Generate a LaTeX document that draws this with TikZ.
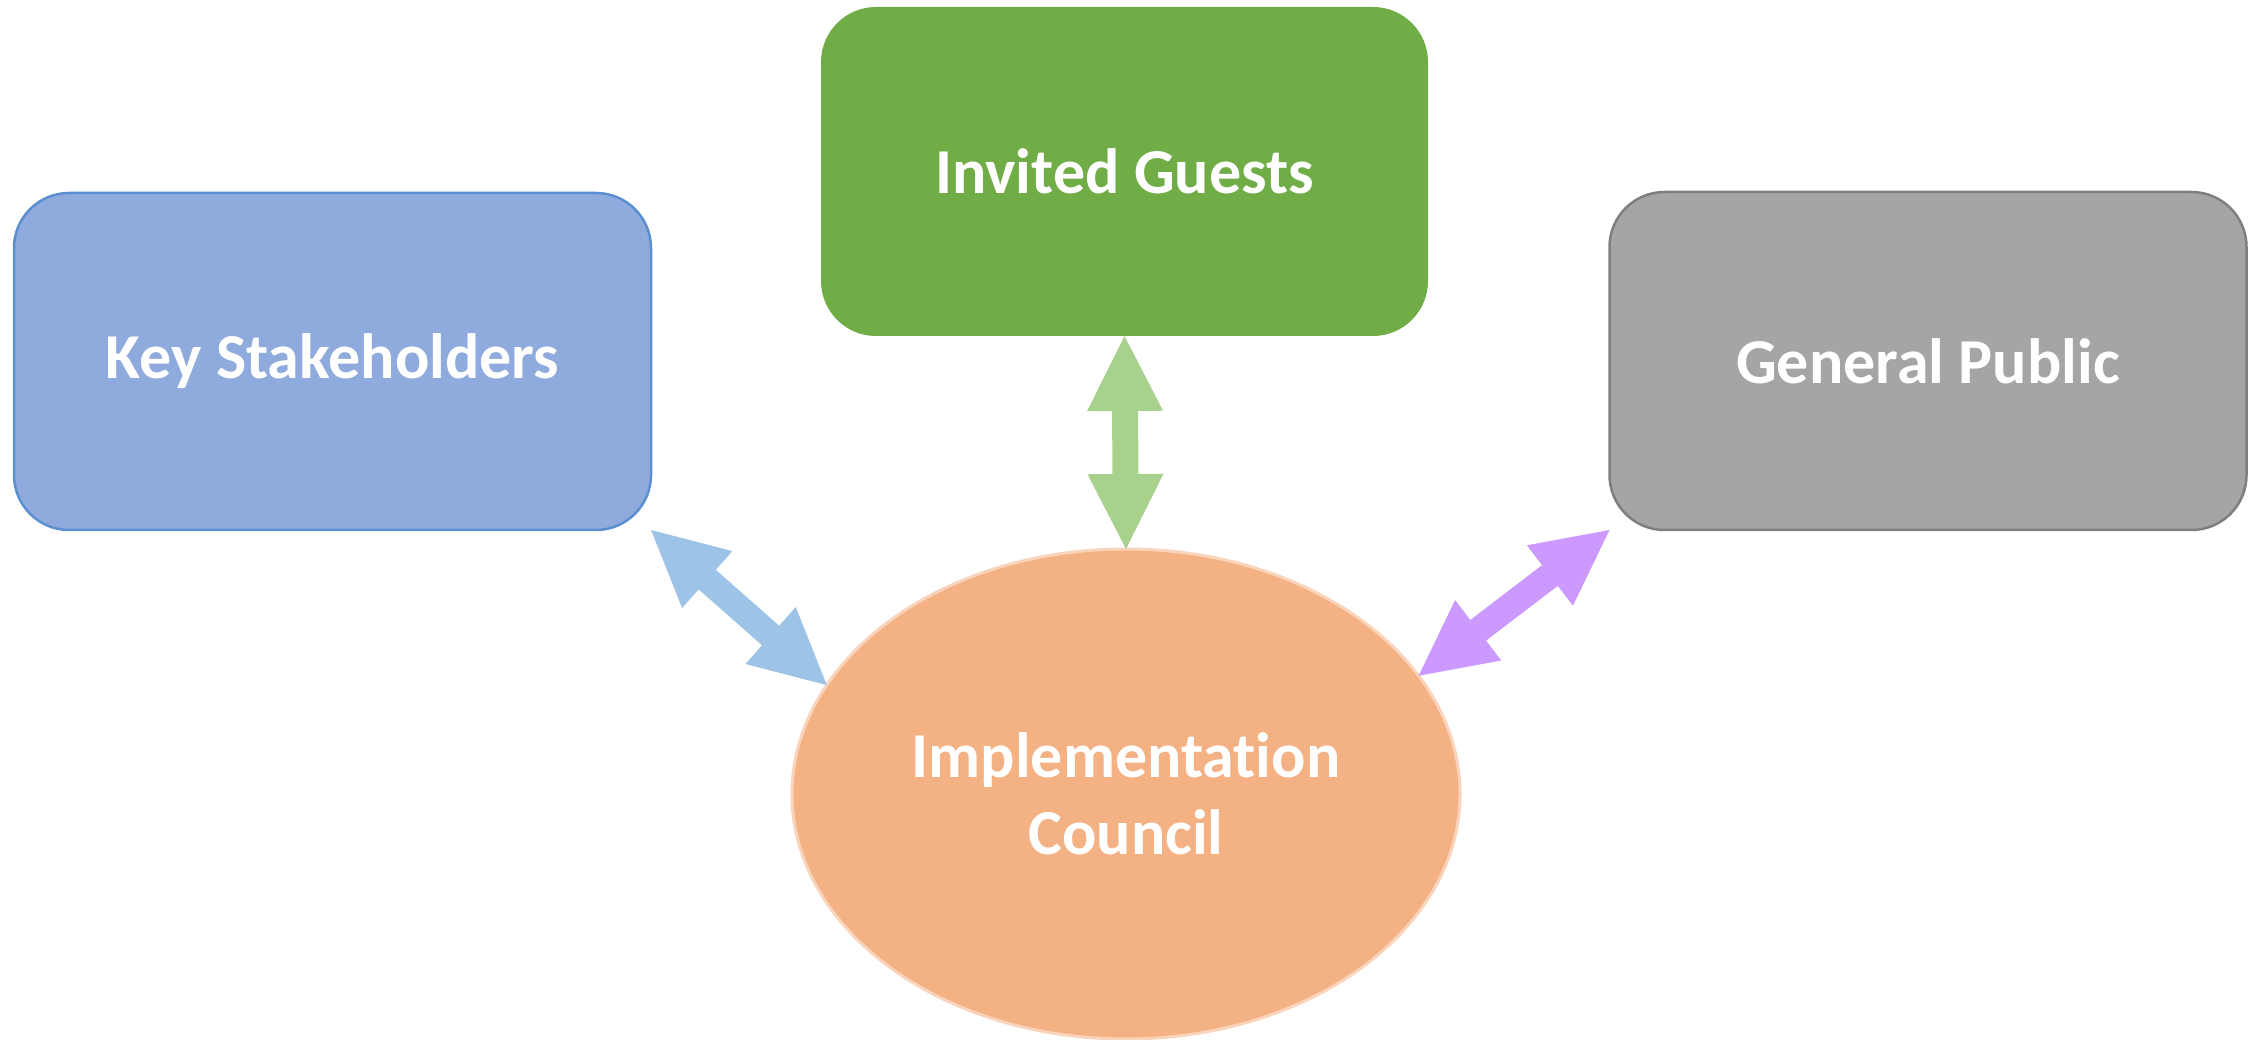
\documentclass[tikz,border=0pt]{standalone}
\usepackage{fontspec}
\setmainfont{Carlito}[Ligatures=NoCommon]
\usetikzlibrary{shapes.geometric,calc}
\definecolor{ksfill}{HTML}{8FAADC}
\definecolor{ksline}{HTML}{5B8FCF}
\definecolor{igfill}{HTML}{70AD47}
\definecolor{gpfill}{HTML}{A5A5A5}
\definecolor{gpline}{HTML}{7F7F7F}
\definecolor{icfill}{HTML}{F4B183}
\definecolor{icline}{HTML}{F9D3BA}
\definecolor{arrblue}{HTML}{9DC3E6}
\definecolor{arrgreen}{HTML}{A9D18E}
\definecolor{arrpurple}{HTML}{CC99FF}
\newcommand\dblarrow[3]{%
 \fill[#1] let \p1=($(#3)-(#2)$), \n1={atan2(\y1,\x1)} in
   (#2) -- ($(#2)+(\n1:75pt)+(\n1+90:38pt)$) -- ($(#2)+(\n1:75pt)+(\n1+90:13pt)$)
   -- ($(#3)+(\n1+180:75pt)+(\n1+90:13pt)$) -- ($(#3)+(\n1+180:75pt)+(\n1+90:38pt)$)
   -- (#3) -- ($(#3)+(\n1+180:75pt)+(\n1-90:38pt)$) -- ($(#3)+(\n1+180:75pt)+(\n1-90:13pt)$)
   -- ($(#2)+(\n1:75pt)+(\n1-90:13pt)$) -- ($(#2)+(\n1:75pt)+(\n1-90:38pt)$) -- cycle;
}
\tikzset{
  box/.style={rectangle, rounded corners=55pt, inner sep=0pt, outer sep=0pt,
    font=\fontsize{64}{76}\selectfont\bfseries, text=white, align=center},
}
\begin{document}
\begin{tikzpicture}[x=1pt,y=1pt]
\useasboundingbox (0,0) rectangle (2259,1039);
\node[box, fill=ksfill, draw=ksline, line width=2.5pt, minimum width=637pt, minimum height=337pt] (ks) at (332.5,677.5) {Key Stakeholders};
\node[box, fill=igfill, minimum width=607pt, minimum height=329pt] (ig) at (1124.5,867.5) {Invited Guests};
\node[box, fill=gpfill, draw=gpline, line width=2.5pt, minimum width=637pt, minimum height=338pt] (gp) at (1928,678) {General Public};
\node[ellipse, fill=icfill, draw=icline, line width=3pt, inner sep=0pt, outer sep=0pt,
  minimum width=668pt, minimum height=490pt, text=white, align=center,
  font=\fontsize{64}{77}\selectfont\bfseries] (ic) at (1126,245) {Implementation\\Council};
\dblarrow{arrgreen}{ig.south}{ic.north}
\dblarrow{arrblue}{ks.south east}{ic.160.7}
\dblarrow{arrpurple}{gp.south west}{ic.22.6}
\end{tikzpicture}
\end{document}
